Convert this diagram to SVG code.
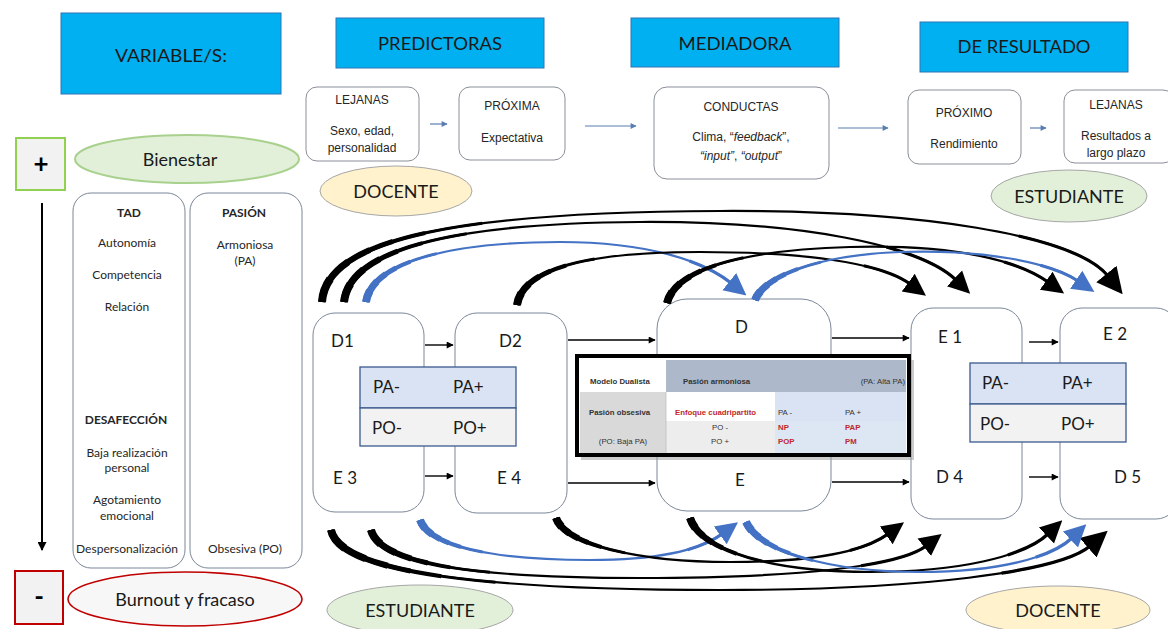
<svg xmlns="http://www.w3.org/2000/svg" xmlns:xlink="http://www.w3.org/1999/xlink" width="1168" height="629" viewBox="0 0 1168 629">
<style>
.hdr{fill:#00B0F0;stroke:#2E75B6;stroke-width:1}
.ht{font-family:Lato,"Open Sans",sans-serif;font-size:18px;fill:#1a1a1a;text-anchor:middle}
.pb{fill:#fff;stroke:#8A8F99;stroke-width:1}
.pt{font-family:"Liberation Sans",Arial,sans-serif;font-size:12px;fill:#262626;text-anchor:middle}
.el{font-family:Lato,"Open Sans",sans-serif;font-size:18px;fill:#1a1a1a;text-anchor:middle}
.lp{fill:#fff;stroke:#7B8799;stroke-width:1}
.lt{font-family:Lato,"Open Sans",sans-serif;font-size:12px;fill:#262626;text-anchor:middle}
.lb{font-weight:bold}
.nb{fill:#fff;stroke:#7B8799;stroke-width:1}
.nt{font-family:Lato,"Open Sans",sans-serif;font-size:17px;fill:#1a1a1a}
.pa{fill:#DAE3F3;stroke:#3B5A8C;stroke-width:1.3}
.po{fill:#F2F2F2;stroke:#3B5A8C;stroke-width:1.3}
.tt{font-family:"Liberation Sans",Arial,sans-serif;font-size:7.8px;fill:#333}
.tb{font-weight:bold}
.red{fill:#C0282D;font-weight:bold}
.ln{stroke:#000;stroke-width:1.4;fill:none}
.fl{stroke:#5B7DB1;stroke-width:1.2;fill:none}
.k{stroke:#000;fill:none}
.b{stroke:#4472C4;fill:none}
.s1{stroke-width:8;stroke-dasharray:3 200}
.s2{stroke-width:7;stroke-dasharray:6 200}
.s3{stroke-width:6;stroke-dasharray:9 200}
.s4{stroke-width:5;stroke-dasharray:12 200}
.s6{stroke-width:4;stroke-dasharray:16 200}
.s7{stroke-width:3;stroke-dasharray:23 200}
.s5{stroke-width:2.2}
.se{stroke-width:3.2;stroke-dasharray:0 88 12 10}
</style>
<defs>
<marker id="ha" viewBox="0 0 10 10" refX="9" refY="5" markerWidth="8" markerHeight="7" markerUnits="userSpaceOnUse" orient="auto"><path d="M0,0 L10,5 L0,10 z" fill="#000"/></marker>
<marker id="hf" viewBox="0 0 10 10" refX="9" refY="5" markerWidth="8" markerHeight="6" markerUnits="userSpaceOnUse" orient="auto"><path d="M0,0 L10,5 L0,10 z" fill="#5B7DB1"/></marker>
<marker id="hv" viewBox="0 0 10 10" refX="9" refY="5" markerWidth="10" markerHeight="9" markerUnits="userSpaceOnUse" orient="auto"><path d="M0,0 L10,5 L0,10 z" fill="#000"/></marker>
<marker id="hk" viewBox="0 0 10 10" refX="1" refY="5" markerWidth="22" markerHeight="24" markerUnits="userSpaceOnUse" orient="auto"><path d="M0,0 L10,5 L0,10 z" fill="#000"/></marker>
<marker id="hK" viewBox="0 0 10 10" refX="1" refY="5" markerWidth="26" markerHeight="34" markerUnits="userSpaceOnUse" orient="auto"><path d="M0,0 L10,5 L0,10 z" fill="#000"/></marker>
<marker id="hb" viewBox="0 0 10 10" refX="1" refY="5" markerWidth="22" markerHeight="24" markerUnits="userSpaceOnUse" orient="auto"><path d="M0,0 L10,5 L0,10 z" fill="#4472C4"/></marker>
<path id="t1" pathLength="100" d="M322,302 C326,236 470,212 720,211 C920,210 1075,235 1108,276"/>
<path id="t2" pathLength="100" d="M344,302 C350,245 470,223 640,222 C800,221 920,245 956,280"/>
<path id="t3" pathLength="100" d="M366,302 C372,262 450,242 560,242 C650,242 705,262 731,283"/>
<path id="t4" pathLength="100" d="M517,305 C523,265 600,252 700,252 C800,252 880,262 910,284"/>
<path id="t5" pathLength="100" d="M667,303 C675,270 740,250 850,247 C960,244 1020,262 1048,282"/>
<path id="t6" pathLength="100" d="M755,300 C765,275 820,255 900,252 C980,249 1050,262 1078,281"/>
<path id="b1" pathLength="100" d="M331,530 C340,575 500,590 720,590 C920,590 1060,572 1090,546"/>
<path id="b2" pathLength="100" d="M371,530 C380,565 480,578 640,578 C800,578 900,566 926,546"/>
<path id="b3" pathLength="100" d="M420,520 C430,548 500,560 590,560 C660,560 700,550 722,534"/>
<path id="b4" pathLength="100" d="M556,518 C565,545 640,562 730,562 C820,562 866,550 888,534"/>
<path id="b5" pathLength="100" d="M690,518 C700,550 770,572 870,572 C960,572 1025,556 1048,534"/>
<path id="b6" pathLength="100" d="M746,522 C760,552 830,572 920,572 C1000,572 1052,557 1072,538"/>
</defs>
<rect width="1168" height="629" fill="#fff"/>

<g id="hdr-variables"><rect class="hdr" x="61" y="13" width="220" height="81"/><text class="ht" x="171" y="62" textLength="112" lengthAdjust="spacingAndGlyphs">VARIABLE/S:</text></g>
<g id="hdr-predictoras"><rect class="hdr" x="336" y="18" width="208" height="50"/><text class="ht" x="440" y="50" textLength="124" lengthAdjust="spacingAndGlyphs">PREDICTORAS</text></g>
<g id="hdr-mediadora"><rect class="hdr" x="631" y="18" width="208" height="49"/><text class="ht" x="735" y="50" textLength="113" lengthAdjust="spacingAndGlyphs">MEDIADORA</text></g>
<g id="hdr-resultado"><rect class="hdr" x="920" y="22" width="208" height="50"/><text class="ht" x="1024" y="53" textLength="133" lengthAdjust="spacingAndGlyphs">DE RESULTADO</text></g>

<g id="pred-lejanas"><rect class="pb" x="306" y="87" width="113" height="74" rx="11"/><text class="pt" x="362" y="104">LEJANAS</text><text class="pt" x="362" y="135">Sexo, edad,</text><text class="pt" x="362" y="152">personalidad</text></g>
<g id="pred-proxima"><rect class="pb" x="459" y="87" width="106" height="73" rx="11"/><text class="pt" x="512" y="110">PRÓXIMA</text><text class="pt" x="512" y="142">Expectativa</text></g>
<g id="med-conductas"><rect class="pb" x="654" y="87" width="175" height="92" rx="13"/><text class="pt" x="741" y="111">CONDUCTAS</text><text class="pt" x="741" y="141">Clima, “<tspan font-style="italic">feedback</tspan>”,</text><text class="pt" x="741" y="160"><tspan font-style="italic">“input”</tspan>, <tspan font-style="italic">“output</tspan>”</text></g>
<g id="res-proximo"><rect class="pb" x="908" y="90" width="113" height="74" rx="11"/><text class="pt" x="964" y="117">PRÓXIMO</text><text class="pt" x="964" y="148">Rendimiento</text></g>
<g id="res-lejanas"><rect class="pb" x="1064" y="90" width="110" height="73" rx="11"/><text class="pt" x="1116" y="109">LEJANAS</text><text class="pt" x="1116" y="140">Resultados a</text><text class="pt" x="1116" y="157">largo plazo</text></g>

<g id="docente-top"><ellipse cx="396" cy="191" rx="76" ry="25" fill="#FFF2CC" stroke="#A6A6A6"/><text class="el" x="396" y="198">DOCENTE</text></g>
<g id="estudiante-top"><ellipse cx="1069" cy="196" rx="78" ry="26" fill="#E2F0D9" stroke="#A6A6A6"/><text class="el" x="1069" y="203">ESTUDIANTE</text></g>
<g id="estudiante-bottom"><ellipse cx="420" cy="610" rx="93" ry="25" fill="#E2F0D9" stroke="#A6A6A6"/><text class="el" x="420" y="617">ESTUDIANTE</text></g>
<g id="docente-bottom"><ellipse cx="1058" cy="610" rx="92" ry="24" fill="#FFF2CC" stroke="#A6A6A6"/><text class="el" x="1058" y="617">DOCENTE</text></g>

<g id="plus"><rect x="16" y="138" width="49" height="52" fill="#F2F2F2" stroke="#92D050" stroke-width="2"/><text x="41" y="173" font-family="Lato,sans-serif" font-size="26" font-weight="bold" text-anchor="middle" fill="#000">+</text></g>
<g id="bienestar"><ellipse cx="187" cy="159" rx="112" ry="24" fill="#E2F0D9" stroke="#A9D18E" stroke-width="2"/><text class="el" x="180" y="166">Bienestar</text></g>
<g id="minus"><rect x="15" y="571" width="48" height="53" fill="#F2F2F2" stroke="#C00000" stroke-width="2"/><text x="39" y="606" font-family="Lato,sans-serif" font-size="26" font-weight="bold" text-anchor="middle" fill="#000">-</text></g>
<g id="burnout"><ellipse cx="185" cy="599" rx="117" ry="27" fill="#F7F7F7" stroke="#C00000" stroke-width="1.6"/><text class="el" x="185" y="606">Burnout y fracaso</text></g>

<g id="tad"><rect class="lp" x="73" y="193" width="112" height="375" rx="18"/>
<text class="lt lb" x="129" y="217">TAD</text><text class="lt" x="127" y="247">Autonomía</text><text class="lt" x="127" y="279">Competencia</text><text class="lt" x="127" y="311">Relación</text>
<text class="lt lb" x="126" y="424">DESAFECCIÓN</text><text class="lt" x="127" y="457">Baja realización</text><text class="lt" x="127" y="472">personal</text><text class="lt" x="127" y="504">Agotamiento</text><text class="lt" x="127" y="520">emocional</text><text class="lt" x="127" y="553">Despersonalización</text></g>
<g id="pasion"><rect class="lp" x="190" y="193" width="112" height="375" rx="18"/>
<text class="lt lb" x="244" y="217">PASIÓN</text><text class="lt" x="245" y="249">Armoniosa</text><text class="lt" x="245" y="265">(PA)</text><text class="lt" x="245" y="553">Obsesiva (PO)</text></g>

<g id="node-d1-e3"><rect class="nb" x="313" y="313" width="111" height="199" rx="22"/><text class="nt" x="331" y="347">D1</text><text class="nt" x="333" y="484">E 3</text></g>
<g id="node-d2-e4"><rect class="nb" x="455" y="313" width="112" height="200" rx="22"/><text class="nt" x="499" y="347">D2</text><text class="nt" x="497" y="484">E 4</text></g>
<g id="node-d-e"><rect class="nb" x="657" y="299" width="174" height="212" rx="30"/><text class="nt" x="735" y="333">D</text><text class="nt" x="735" y="486">E</text></g>
<g id="node-e1-d4"><rect class="nb" x="911" y="308" width="111" height="211" rx="22"/><text class="nt" x="938" y="343">E 1</text><text class="nt" x="936" y="483">D 4</text></g>
<g id="node-e2-d5"><rect class="nb" x="1060" y="308" width="118" height="211" rx="22"/><text class="nt" x="1103" y="340">E 2</text><text class="nt" x="1114" y="483">D 5</text></g>

<g id="papo-left"><rect class="pa" x="360" y="367" width="156" height="41"/><rect class="po" x="360" y="408" width="156" height="38"/>
<text class="nt" x="373" y="393">PA-</text><text class="nt" x="453" y="393">PA+</text><text class="nt" x="372" y="434">PO-</text><text class="nt" x="453" y="434">PO+</text></g>
<g id="papo-right"><rect class="pa" x="970" y="363" width="156" height="41"/><rect class="po" x="970" y="404" width="156" height="38"/>
<text class="nt" x="982" y="389">PA-</text><text class="nt" x="1062" y="389">PA+</text><text class="nt" x="980" y="430">PO-</text><text class="nt" x="1061" y="430">PO+</text></g>

<g id="modelo-dualista">
<rect x="581" y="360" width="333" height="100" fill="#9A9A9A" opacity="0.5"/>
<rect x="577" y="356" width="332" height="99" fill="#fff" stroke="#000" stroke-width="4"/>
<rect x="580" y="360" width="86" height="32" fill="#fff"/>
<rect x="666" y="360" width="240" height="32" fill="#ADB9CA"/>
<rect x="580" y="392" width="86" height="61" fill="#D9D9D9"/>
<rect x="666" y="392" width="109" height="29" fill="#fff"/>
<rect x="775" y="392" width="131" height="29" fill="#DAE3F3"/>
<rect x="666" y="421" width="109" height="32" fill="#EDEDED"/>
<rect x="775" y="421" width="131" height="32" fill="#DDE6F3"/>
<line x1="666" y1="392" x2="666" y2="453" stroke="#BFBFBF" stroke-width="0.8"/>
<text class="tt tb" x="590" y="384">Modelo Dualista</text>
<text class="tt tb" x="683" y="384">Pasión armoniosa</text>
<text class="tt" x="905" y="384" text-anchor="end">(PA: Alta PA)</text>
<text class="tt tb" x="589" y="415">Pasión obsesiva</text>
<text class="tt red" x="675" y="415">Enfoque cuadripartito</text>
<text class="tt" x="778" y="415">PA -</text><text class="tt" x="845" y="415">PA +</text>
<text class="tt" x="720" y="430" text-anchor="middle">PO -</text><text class="tt red" x="778" y="430">NP</text><text class="tt red" x="845" y="430">PAP</text>
<text class="tt" x="623" y="444" text-anchor="middle">(PO: Baja PA)</text><text class="tt" x="720" y="444" text-anchor="middle">PO +</text><text class="tt red" x="778" y="444">POP</text><text class="tt red" x="845" y="444">PM</text>
</g>

<g id="connectors">
<line class="fl" x1="430" y1="124" x2="447" y2="124" marker-end="url(#hf)"/>
<line class="fl" x1="585" y1="126" x2="636" y2="126" marker-end="url(#hf)"/>
<line class="fl" x1="838" y1="128" x2="888" y2="128" marker-end="url(#hf)"/>
<line class="fl" x1="1030" y1="128" x2="1046" y2="128" marker-end="url(#hf)"/>
<line x1="42" y1="203" x2="42" y2="550" stroke="#000" stroke-width="2" marker-end="url(#hv)"/>
<line class="ln" x1="425" y1="345" x2="453" y2="345" marker-end="url(#ha)"/>
<line class="ln" x1="425" y1="476" x2="453" y2="476" marker-end="url(#ha)"/>
<line class="ln" x1="568" y1="340" x2="655" y2="340" marker-end="url(#ha)"/>
<line class="ln" x1="568" y1="483" x2="655" y2="483" marker-end="url(#ha)"/>
<line class="ln" x1="832" y1="338" x2="909" y2="338" marker-end="url(#ha)"/>
<line class="ln" x1="832" y1="482" x2="909" y2="482" marker-end="url(#ha)"/>
<line class="ln" x1="1029" y1="342" x2="1058" y2="342" marker-end="url(#ha)"/>
<line class="ln" x1="1029" y1="477" x2="1058" y2="477" marker-end="url(#ha)"/>

<g class="k"><use href="#t1" class="s1"/><use href="#t1" class="s2"/><use href="#t1" class="s3"/><use href="#t1" class="s4"/><use href="#t1" class="s6"/><use href="#t1" class="s7"/><use href="#t1" class="se"/><use href="#t1" class="s5" marker-end="url(#hK)"/></g>
<g class="k"><use href="#t2" class="s1"/><use href="#t2" class="s2"/><use href="#t2" class="s3"/><use href="#t2" class="s4"/><use href="#t2" class="s6"/><use href="#t2" class="s7"/><use href="#t2" class="se"/><use href="#t2" class="s5" marker-end="url(#hk)"/></g>
<g class="b"><use href="#t3" class="s1"/><use href="#t3" class="s2"/><use href="#t3" class="s3"/><use href="#t3" class="s4"/><use href="#t3" class="s6"/><use href="#t3" class="s7"/><use href="#t3" class="se"/><use href="#t3" class="s5" marker-end="url(#hb)"/></g>
<g class="k"><use href="#t4" class="s1"/><use href="#t4" class="s2"/><use href="#t4" class="s3"/><use href="#t4" class="s4"/><use href="#t4" class="s6"/><use href="#t4" class="s7"/><use href="#t4" class="se"/><use href="#t4" class="s5" marker-end="url(#hk)"/></g>
<g class="k"><use href="#t5" class="s1"/><use href="#t5" class="s2"/><use href="#t5" class="s3"/><use href="#t5" class="s4"/><use href="#t5" class="s6"/><use href="#t5" class="s7"/><use href="#t5" class="se"/><use href="#t5" class="s5" marker-end="url(#hk)"/></g>
<g class="b"><use href="#t6" class="s1"/><use href="#t6" class="s2"/><use href="#t6" class="s3"/><use href="#t6" class="s4"/><use href="#t6" class="s6"/><use href="#t6" class="s7"/><use href="#t6" class="se"/><use href="#t6" class="s5" marker-end="url(#hb)"/></g>

<g class="k"><use href="#b1" class="s1"/><use href="#b1" class="s2"/><use href="#b1" class="s3"/><use href="#b1" class="s4"/><use href="#b1" class="s6"/><use href="#b1" class="s7"/><use href="#b1" class="se"/><use href="#b1" class="s5" marker-end="url(#hK)"/></g>
<g class="k"><use href="#b2" class="s1"/><use href="#b2" class="s2"/><use href="#b2" class="s3"/><use href="#b2" class="s4"/><use href="#b2" class="s6"/><use href="#b2" class="s7"/><use href="#b2" class="se"/><use href="#b2" class="s5" marker-end="url(#hk)"/></g>
<g class="b"><use href="#b3" class="s1"/><use href="#b3" class="s2"/><use href="#b3" class="s3"/><use href="#b3" class="s4"/><use href="#b3" class="s6"/><use href="#b3" class="s7"/><use href="#b3" class="se"/><use href="#b3" class="s5" marker-end="url(#hb)"/></g>
<g class="k"><use href="#b4" class="s1"/><use href="#b4" class="s2"/><use href="#b4" class="s3"/><use href="#b4" class="s4"/><use href="#b4" class="s6"/><use href="#b4" class="s7"/><use href="#b4" class="se"/><use href="#b4" class="s5" marker-end="url(#hk)"/></g>
<g class="k"><use href="#b5" class="s1"/><use href="#b5" class="s2"/><use href="#b5" class="s3"/><use href="#b5" class="s4"/><use href="#b5" class="s6"/><use href="#b5" class="s7"/><use href="#b5" class="se"/><use href="#b5" class="s5" marker-end="url(#hk)"/></g>
<g class="b"><use href="#b6" class="s1"/><use href="#b6" class="s2"/><use href="#b6" class="s3"/><use href="#b6" class="s4"/><use href="#b6" class="s6"/><use href="#b6" class="s7"/><use href="#b6" class="se"/><use href="#b6" class="s5" marker-end="url(#hb)"/></g>
</g>
</svg>
